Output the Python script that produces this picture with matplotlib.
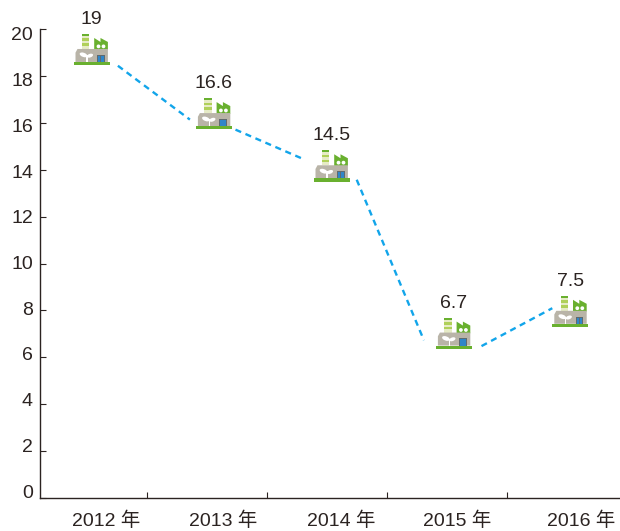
import matplotlib
matplotlib.use("Agg")
import matplotlib.pyplot as plt
from matplotlib.patches import Rectangle, Polygon, Circle, Ellipse
from matplotlib.transforms import Affine2D

plt.rcParams['font.family'] = ['Liberation Sans', 'Noto Sans CJK SC', 'DejaVu Sans']

categories = ['2012 年', '2013 年', '2014 年', '2015 年', '2016 年']
values = [19, 16.6, 14.5, 6.7, 7.5]
value_labels = ['19', '16.6', '14.5', '6.7', '7.5']
# where each icon's base sits (it floats below the stated value)
icon_x = [0.04, 1.06, 2.04, 3.06, 4.03]
icon_base = [18.54, 15.80, 13.57, 6.42, 7.35]
label_x = [0.16, 1.14, 2.12, 3.09, 4.12]
# the dashed connector stops short of each icon
seg_x = [(0.26, 0.86), (1.24, 1.82), (2.25, 2.81), (3.29, 3.88)]
seg_y = [(18.45, 16.15), (15.72, 14.43), (13.58, 6.72), (6.47, 8.09)]
y_ticks = list(range(0, 21, 2))

W, H = 620, 531
INK = '#2b2321'
fig = plt.figure(figsize=(W / 100, H / 100), dpi=100)
L, R, T, B = 40, 620, 29.5, 497.5
ax = fig.add_axes([L / W, 1 - B / H, (R - L) / W, (B - T) / H])
ax.set_xlim((L - 86.7) / 120, (R - 86.7) / 120)
ax.set_ylim(0, 20)

for s in ('top', 'right'):
    ax.spines[s].set_visible(False)
for s in ('left', 'bottom'):
    ax.spines[s].set_color(INK)
    ax.spines[s].set_linewidth(1.0)

ax.set_xticks([i + 0.5 for i in range(4)])
ax.set_yticks(y_ticks)
ax.tick_params(direction='in', length=4, width=0.8, color=INK, labelbottom=False, labelleft=False)

FS = 14
bt = ax.get_xaxis_transform()
for x, c in zip(label_x, categories):
    ax.annotate(c, (x, 0), xycoords=bt, xytext=(0, -23), textcoords='offset pixels',
                ha='center', va='center', fontsize=FS, color=INK)
lt = ax.get_yaxis_transform()
for v in y_ticks:
    ax.annotate(str(v), (0, (4.5 + 22.85 * v) / 23.4), xycoords=lt, xytext=(-7, 0), textcoords='offset pixels',
                ha='right', va='center', fontsize=FS, color=INK)

for xs, ys in zip(seg_x, seg_y):
    ax.plot(xs, ys, color='#12a5ea', lw=1.7, dashes=(2.6, 2.0), solid_capstyle='butt', clip_on=False)

GREEN = '#69b02f'
GREY = '#b9b4a8'
LIGHT = '#b0d05a'
fig.canvas.draw()


def icon(x, y):
    px, py = ax.transData.transform((x, y))
    t = Affine2D().translate(px, py)

    def add(p):
        p.set_transform(t)
        p.set_clip_on(False)
        p.set_linewidth(0)
        ax.add_artist(p)

    # chimney stripes
    add(Rectangle((-9.6, 14.7), 7.4, 15, fc='#e6ebc6'))
    add(Rectangle((-9.6, 27.7), 7.4, 2, fc=GREEN))
    add(Rectangle((-9.6, 22.6), 7.4, 2.6, fc=LIGHT))
    add(Rectangle((-9.6, 17.8), 7.4, 2.6, fc=LIGHT))
    # green hall with saw-tooth roof
    add(Polygon([(2.7, 14), (2.7, 25.7), (9, 21.7), (9, 25.7), (16.4, 21.7), (16.4, 14)], fc=GREEN))
    add(Circle((7, 17.3), 1.9, fc='white'))
    add(Circle((12, 17.3), 1.9, fc='white'))
    # grey body
    add(Polygon([(-16, 1.7), (-16, 11), (-14, 14.7), (16.4, 14.7), (16.4, 1.7)], fc=GREY))
    # door
    add(Rectangle((5.4, 1.7), 7.6, 7.3, fc='#5f6a70'))
    add(Rectangle((6.3, 1.7), 2.6, 6.3, fc='#2f86c8'))
    add(Rectangle((9.5, 1.7), 2.6, 6.3, fc='#2f86c8'))
    # seedling
    add(Rectangle((-5.4, 1.7), 1.5, 7, fc='white'))
    add(Ellipse((-8, 8.8), 8, 4.2, angle=-20, fc='white'))
    add(Ellipse((-1.5, 8.0), 6.4, 3.6, angle=20, fc='white'))
    # base
    add(Rectangle((-18, -1.7), 36, 3.4, fc=GREEN))


for x, y, s in zip(icon_x, icon_base, value_labels):
    icon(x, y)
    ax.annotate(s, (x, y), xytext=(0, 44), textcoords='offset pixels', ha='center', va='center',
                fontsize=FS, color=INK, annotation_clip=False)

fig.savefig('out.png', dpi=100)
